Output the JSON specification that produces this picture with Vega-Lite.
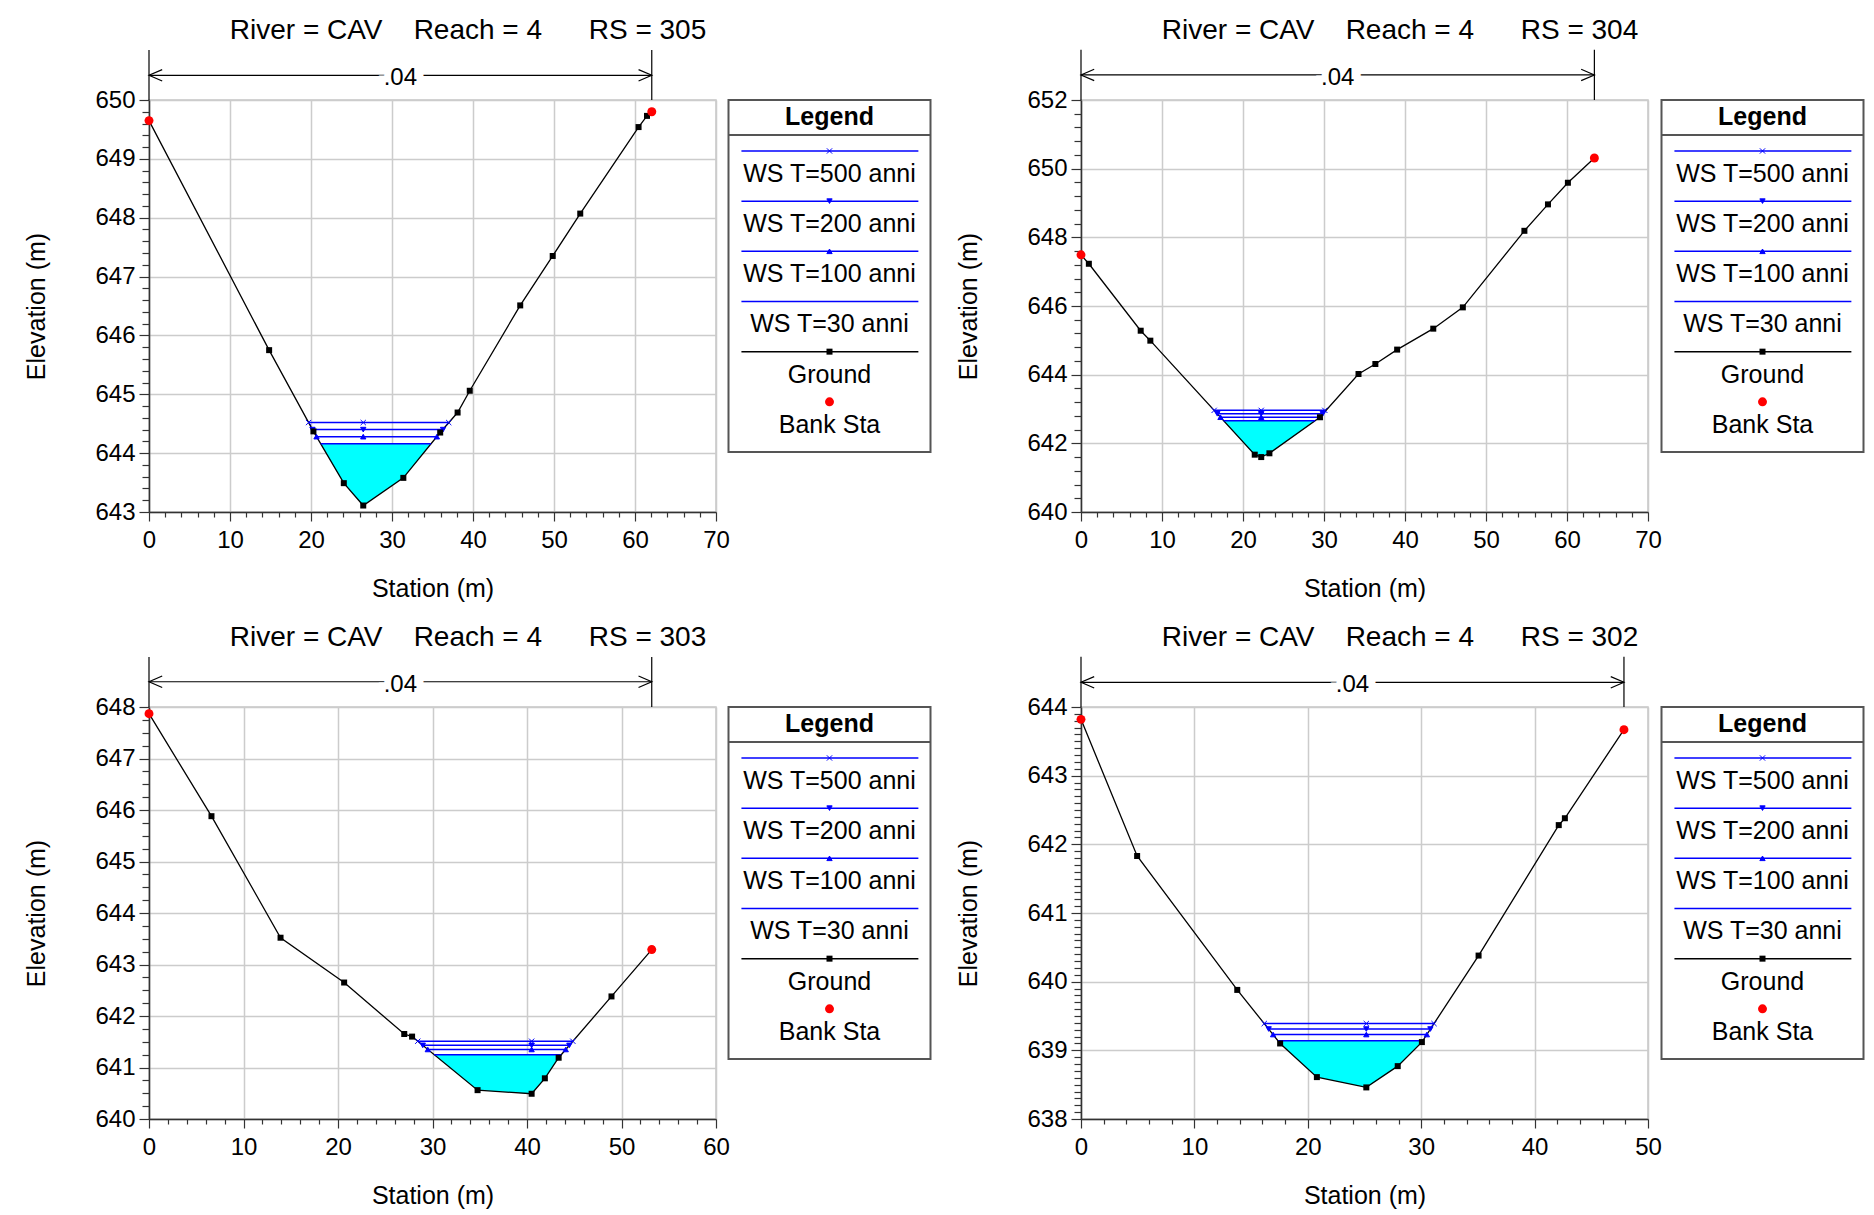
{
  "$schema": "https://vega.github.io/schema/vega-lite/v6.json",
  "background": "white",
  "padding": {"left": 24, "top": 16, "right": 5, "bottom": 5},
  "config": {
    "font": "Liberation Sans",
    "axis": {"labelFontSize": 24, "titleFontSize": 25, "titleFontWeight": "normal", "labelColor": "#000", "titleColor": "#000", "domainColor": "#333", "domainWidth": 1.5, "tickColor": "#333", "tickWidth": 1.2, "gridColor": "#cccccc", "gridWidth": 1.5, "labelOverlap": false, "labelBound": false, "labelFlush": false, "labelFont": "Liberation Sans", "titleFont": "Liberation Sans"},
    "axisX": {"labelPadding": 7, "titlePadding": 24},
    "axisY": {"labelPadding": 4, "titlePadding": 45},
    "title": {"font": "Liberation Sans"},
    "text": {"font": "Liberation Sans"}
  },
  "datasets": {
    "ground": [
      {"rs": 305, "sta": 0, "elev": 649.65}, {"rs": 305, "sta": 14.83, "elev": 645.75}, {"rs": 305, "sta": 20.3, "elev": 644.37}, {"rs": 305, "sta": 24.05, "elev": 643.49}, {"rs": 305, "sta": 26.45, "elev": 643.11}, {"rs": 305, "sta": 31.4, "elev": 643.58}, {"rs": 305, "sta": 35.95, "elev": 644.35}, {"rs": 305, "sta": 38.1, "elev": 644.69}, {"rs": 305, "sta": 39.6, "elev": 645.06}, {"rs": 305, "sta": 45.83, "elev": 646.51}, {"rs": 305, "sta": 49.84, "elev": 647.35}, {"rs": 305, "sta": 53.24, "elev": 648.07}, {"rs": 305, "sta": 60.44, "elev": 649.54}, {"rs": 305, "sta": 61.48, "elev": 649.73}, {"rs": 305, "sta": 62.07, "elev": 649.8},
      {"rs": 304, "sta": 0, "elev": 647.49}, {"rs": 304, "sta": 0.97, "elev": 647.23}, {"rs": 304, "sta": 7.37, "elev": 645.28}, {"rs": 304, "sta": 8.56, "elev": 644.99}, {"rs": 304, "sta": 21.45, "elev": 641.67}, {"rs": 304, "sta": 22.25, "elev": 641.6}, {"rs": 304, "sta": 23.26, "elev": 641.71}, {"rs": 304, "sta": 29.5, "elev": 642.76}, {"rs": 304, "sta": 34.26, "elev": 644.02}, {"rs": 304, "sta": 36.34, "elev": 644.31}, {"rs": 304, "sta": 39.03, "elev": 644.73}, {"rs": 304, "sta": 43.49, "elev": 645.34}, {"rs": 304, "sta": 47.14, "elev": 645.96}, {"rs": 304, "sta": 54.74, "elev": 648.19}, {"rs": 304, "sta": 57.65, "elev": 648.96}, {"rs": 304, "sta": 60.11, "elev": 649.59}, {"rs": 304, "sta": 63.38, "elev": 650.31},
      {"rs": 303, "sta": 0, "elev": 647.87}, {"rs": 303, "sta": 6.61, "elev": 645.88}, {"rs": 303, "sta": 13.92, "elev": 643.52}, {"rs": 303, "sta": 20.65, "elev": 642.65}, {"rs": 303, "sta": 27.01, "elev": 641.65}, {"rs": 303, "sta": 27.84, "elev": 641.6}, {"rs": 303, "sta": 34.77, "elev": 640.56}, {"rs": 303, "sta": 40.49, "elev": 640.49}, {"rs": 303, "sta": 41.89, "elev": 640.79}, {"rs": 303, "sta": 43.35, "elev": 641.19}, {"rs": 303, "sta": 48.94, "elev": 642.38}, {"rs": 303, "sta": 53.2, "elev": 643.29},
      {"rs": 302, "sta": 0, "elev": 643.82}, {"rs": 302, "sta": 4.95, "elev": 641.83}, {"rs": 302, "sta": 13.78, "elev": 639.88}, {"rs": 302, "sta": 17.56, "elev": 639.1}, {"rs": 302, "sta": 20.8, "elev": 638.61}, {"rs": 302, "sta": 25.16, "elev": 638.46}, {"rs": 302, "sta": 27.93, "elev": 638.77}, {"rs": 302, "sta": 30.06, "elev": 639.12}, {"rs": 302, "sta": 35.06, "elev": 640.38}, {"rs": 302, "sta": 42.13, "elev": 642.28}, {"rs": 302, "sta": 42.67, "elev": 642.38}, {"rs": 302, "sta": 47.88, "elev": 643.67}
    ],
    "ws": [
      {"rs": 305, "series": "WS T=500 anni", "sta": 19.7, "elev": 644.52}, {"rs": 305, "series": "WS T=500 anni", "sta": 26.45, "elev": 644.52}, {"rs": 305, "series": "WS T=500 anni", "sta": 37.0, "elev": 644.52},
      {"rs": 305, "series": "WS T=200 anni", "sta": 20.18, "elev": 644.4}, {"rs": 305, "series": "WS T=200 anni", "sta": 26.45, "elev": 644.4}, {"rs": 305, "series": "WS T=200 anni", "sta": 36.3, "elev": 644.4},
      {"rs": 305, "series": "WS T=100 anni", "sta": 20.68, "elev": 644.28}, {"rs": 305, "series": "WS T=100 anni", "sta": 26.45, "elev": 644.28}, {"rs": 305, "series": "WS T=100 anni", "sta": 35.54, "elev": 644.28},
      {"rs": 305, "series": "WS T=30 anni", "sta": 21.2, "elev": 644.16}, {"rs": 305, "series": "WS T=30 anni", "sta": 26.45, "elev": 644.16}, {"rs": 305, "series": "WS T=30 anni", "sta": 34.83, "elev": 644.16},
      {"rs": 304, "series": "WS T=500 anni", "sta": 16.44, "elev": 642.96}, {"rs": 304, "series": "WS T=500 anni", "sta": 22.25, "elev": 642.96}, {"rs": 304, "series": "WS T=500 anni", "sta": 30.1, "elev": 642.96},
      {"rs": 304, "series": "WS T=200 anni", "sta": 16.83, "elev": 642.86}, {"rs": 304, "series": "WS T=200 anni", "sta": 22.25, "elev": 642.86}, {"rs": 304, "series": "WS T=200 anni", "sta": 29.85, "elev": 642.86},
      {"rs": 304, "series": "WS T=100 anni", "sta": 17.22, "elev": 642.76}, {"rs": 304, "series": "WS T=100 anni", "sta": 22.25, "elev": 642.76}, {"rs": 304, "series": "WS T=100 anni", "sta": 29.5, "elev": 642.76},
      {"rs": 304, "series": "WS T=30 anni", "sta": 17.6, "elev": 642.66}, {"rs": 304, "series": "WS T=30 anni", "sta": 22.25, "elev": 642.66}, {"rs": 304, "series": "WS T=30 anni", "sta": 28.9, "elev": 642.66},
      {"rs": 303, "series": "WS T=500 anni", "sta": 28.44, "elev": 641.51}, {"rs": 303, "series": "WS T=500 anni", "sta": 40.49, "elev": 641.51}, {"rs": 303, "series": "WS T=500 anni", "sta": 44.85, "elev": 641.51},
      {"rs": 303, "series": "WS T=200 anni", "sta": 28.97, "elev": 641.43}, {"rs": 303, "series": "WS T=200 anni", "sta": 40.49, "elev": 641.43}, {"rs": 303, "series": "WS T=200 anni", "sta": 44.48, "elev": 641.43},
      {"rs": 303, "series": "WS T=100 anni", "sta": 29.5, "elev": 641.35}, {"rs": 303, "series": "WS T=100 anni", "sta": 40.49, "elev": 641.35}, {"rs": 303, "series": "WS T=100 anni", "sta": 44.1, "elev": 641.35},
      {"rs": 303, "series": "WS T=30 anni", "sta": 30.17, "elev": 641.25}, {"rs": 303, "series": "WS T=30 anni", "sta": 40.49, "elev": 641.25}, {"rs": 303, "series": "WS T=30 anni", "sta": 43.63, "elev": 641.25},
      {"rs": 302, "series": "WS T=500 anni", "sta": 16.16, "elev": 639.39}, {"rs": 302, "series": "WS T=500 anni", "sta": 25.16, "elev": 639.39}, {"rs": 302, "series": "WS T=500 anni", "sta": 31.13, "elev": 639.39},
      {"rs": 302, "series": "WS T=200 anni", "sta": 16.55, "elev": 639.31}, {"rs": 302, "series": "WS T=200 anni", "sta": 25.16, "elev": 639.31}, {"rs": 302, "series": "WS T=200 anni", "sta": 30.81, "elev": 639.31},
      {"rs": 302, "series": "WS T=100 anni", "sta": 16.94, "elev": 639.23}, {"rs": 302, "series": "WS T=100 anni", "sta": 25.16, "elev": 639.23}, {"rs": 302, "series": "WS T=100 anni", "sta": 30.5, "elev": 639.23},
      {"rs": 302, "series": "WS T=30 anni", "sta": 17.37, "elev": 639.14}, {"rs": 302, "series": "WS T=30 anni", "sta": 25.16, "elev": 639.14}, {"rs": 302, "series": "WS T=30 anni", "sta": 30.14, "elev": 639.14}
    ],
    "water": [
      {"rs": 305, "sta": 21.2, "bed": 644.16, "ws": 644.16}, {"rs": 305, "sta": 24.05, "bed": 643.49, "ws": 644.16}, {"rs": 305, "sta": 26.45, "bed": 643.11, "ws": 644.16}, {"rs": 305, "sta": 31.4, "bed": 643.58, "ws": 644.16}, {"rs": 305, "sta": 34.83, "bed": 644.16, "ws": 644.16},
      {"rs": 304, "sta": 17.6, "bed": 642.66, "ws": 642.66}, {"rs": 304, "sta": 21.45, "bed": 641.67, "ws": 642.66}, {"rs": 304, "sta": 22.25, "bed": 641.6, "ws": 642.66}, {"rs": 304, "sta": 23.26, "bed": 641.71, "ws": 642.66}, {"rs": 304, "sta": 28.9, "bed": 642.66, "ws": 642.66},
      {"rs": 303, "sta": 30.17, "bed": 641.25, "ws": 641.25}, {"rs": 303, "sta": 34.77, "bed": 640.56, "ws": 641.25}, {"rs": 303, "sta": 40.49, "bed": 640.49, "ws": 641.25}, {"rs": 303, "sta": 41.89, "bed": 640.79, "ws": 641.25}, {"rs": 303, "sta": 43.35, "bed": 641.19, "ws": 641.25}, {"rs": 303, "sta": 43.63, "bed": 641.25, "ws": 641.25},
      {"rs": 302, "sta": 17.37, "bed": 639.14, "ws": 639.14}, {"rs": 302, "sta": 17.56, "bed": 639.1, "ws": 639.14}, {"rs": 302, "sta": 20.8, "bed": 638.61, "ws": 639.14}, {"rs": 302, "sta": 25.16, "bed": 638.46, "ws": 639.14}, {"rs": 302, "sta": 27.93, "bed": 638.77, "ws": 639.14}, {"rs": 302, "sta": 30.06, "bed": 639.12, "ws": 639.14}, {"rs": 302, "sta": 30.14, "bed": 639.14, "ws": 639.14}
    ],
    "bank": [
      {"rs": 305, "sta": 0, "elev": 649.65}, {"rs": 305, "sta": 62.07, "elev": 649.8},
      {"rs": 304, "sta": 0, "elev": 647.49}, {"rs": 304, "sta": 63.38, "elev": 650.31},
      {"rs": 303, "sta": 0, "elev": 647.87}, {"rs": 303, "sta": 53.2, "elev": 643.29},
      {"rs": 302, "sta": 0, "elev": 643.82}, {"rs": 302, "sta": 47.88, "elev": 643.67}
    ],
    "manning": [
      {"rs": 305, "n": ".04", "left": 0, "right": 62.07},
      {"rs": 304, "n": ".04", "left": 0, "right": 63.38},
      {"rs": 303, "n": ".04", "left": 0, "right": 53.2},
      {"rs": 302, "n": ".04", "left": 0, "right": 47.88}
    ],
    "legend": [
      {"series": "WS T=500 anni", "rank": 0}, {"series": "WS T=200 anni", "rank": 1}, {"series": "WS T=100 anni", "rank": 2}, {"series": "WS T=30 anni", "rank": 3}, {"series": "Ground", "rank": 4}, {"series": "Bank Sta", "rank": 5}
    ]
  },
  "vconcat": [
    {
      "hconcat": [
        {
          "hconcat": [
            {
              "width": 567, "height": 412,
              "view": {"stroke": "#c8c8c8", "strokeWidth": 1.5},
              "title": {"text": "River = CAV\u00a0\u00a0\u00a0\u00a0Reach = 4\u00a0\u00a0\u00a0\u00a0\u00a0\u00a0RS = 305", "fontSize": 28, "fontWeight": "normal", "anchor": "middle", "frame": "group", "dx": 35.5, "baseline": "alphabetic", "offset": -18, "color": "#000"},
              "layer": [
                {"data": {"name": "water"}, "transform": [{"filter": "datum.rs == 305"}], "mark": {"type": "area", "color": "#00ffff", "opacity": 1},
                 "encoding": {
                   "x": {"field": "sta", "type": "quantitative", "scale": {"domain": [0, 70], "nice": false, "zero": false},
                         "axis": {"title": "Station (m)", "tickCount": 200, "values": [0,2,4,6,8,10,12,14,16,18,20,22,24,26,28,30,32,34,36,38,40,42,44,46,48,50,52,54,56,58,60,62,64,66,68,70], "labelExpr": "datum.value % 10 == 0 ? '' + datum.value : ''", "gridOpacity": {"condition": {"test": "datum.value % 10 != 0", "value": 0}, "value": 1}, "tickSize": {"condition": {"test": "datum.value % 10 != 0", "value": 5}, "value": 9}}},
                   "y": {"field": "bed", "type": "quantitative", "scale": {"domain": [643, 650], "nice": false, "zero": false},
                         "axis": {"title": "Elevation (m)", "tickCount": 200, "values": [643,643.2,643.4,643.6,643.8,644,644.2,644.4,644.6,644.8,645,645.2,645.4,645.6,645.8,646,646.2,646.4,646.6,646.8,647,647.2,647.4,647.6,647.8,648,648.2,648.4,648.6,648.8,649,649.2,649.4,649.6,649.8,650], "labelExpr": "abs(datum.value - round(datum.value)) < 0.001 ? '' + round(datum.value) : ''", "gridOpacity": {"condition": {"test": "abs(datum.value - round(datum.value)) > 0.001", "value": 0}, "value": 1}, "tickSize": {"condition": {"test": "abs(datum.value - round(datum.value)) > 0.001", "value": 7}, "value": 10}}},
                   "y2": {"field": "ws"}
                 }},
                {"data": {"name": "ground"}, "transform": [{"filter": "datum.rs == 305"}], "mark": {"type": "line", "color": "#000", "strokeWidth": 1.3},
                 "encoding": {"x": {"field": "sta", "type": "quantitative"}, "y": {"field": "elev", "type": "quantitative"}}},
                {"data": {"name": "ws"}, "transform": [{"filter": "datum.rs == 305"}], "mark": {"type": "line", "color": "#0000ff", "strokeWidth": 1.5},
                 "encoding": {"x": {"field": "sta", "type": "quantitative"}, "y": {"field": "elev", "type": "quantitative"}, "detail": {"field": "series", "type": "nominal"}}},
                {"data": {"name": "ws"}, "transform": [{"filter": "datum.rs == 305 && datum.series != 'WS T=30 anni'"}], "mark": {"type": "point", "filled": true, "color": "#0000ff", "stroke": "#0000ff", "strokeWidth": 1, "size": 28, "opacity": 1},
                 "encoding": {"x": {"field": "sta", "type": "quantitative"}, "y": {"field": "elev", "type": "quantitative"}, "shape": {"field": "series", "type": "nominal", "scale": {"domain": ["WS T=500 anni", "WS T=200 anni", "WS T=100 anni"], "range": ["M-1,-1L1,1M-1,1L1,-1", "triangle-down", "triangle-up"]}, "legend": null}}},
                {"data": {"name": "ground"}, "transform": [{"filter": "datum.rs == 305"}], "mark": {"type": "square", "color": "#000", "size": 36, "opacity": 1},
                 "encoding": {"x": {"field": "sta", "type": "quantitative"}, "y": {"field": "elev", "type": "quantitative"}}},
                {"data": {"name": "bank"}, "transform": [{"filter": "datum.rs == 305"}], "mark": {"type": "circle", "color": "#ff0000", "size": 80, "opacity": 1},
                 "encoding": {"x": {"field": "sta", "type": "quantitative"}, "y": {"field": "elev", "type": "quantitative"}}},
                {"data": {"name": "bank"}, "transform": [{"filter": "datum.rs == 305"}], "mark": {"type": "rule", "color": "#000", "strokeWidth": 1.2},
                 "encoding": {"x": {"field": "sta", "type": "quantitative"}, "y": {"datum": 650}, "y2": {"datum": 650.85}}},
                {"data": {"name": "manning"}, "transform": [{"filter": "datum.rs == 305"}], "mark": {"type": "rule", "color": "#000", "strokeWidth": 1.2},
                 "encoding": {"x": {"field": "left", "type": "quantitative"}, "x2": {"field": "right"}, "y": {"datum": 650.42}}},
                {"data": {"name": "manning"}, "transform": [{"filter": "datum.rs == 305"}], "mark": {"type": "point", "shape": "M2.2,-0.95L0,0L2.2,0.95", "filled": false, "color": "#000", "strokeWidth": 1.2, "size": 144, "opacity": 1},
                 "encoding": {"x": {"field": "left", "type": "quantitative"}, "y": {"datum": 650.42}}},
                {"data": {"name": "manning"}, "transform": [{"filter": "datum.rs == 305"}], "mark": {"type": "point", "shape": "M-2.2,-0.95L0,0L-2.2,0.95", "filled": false, "color": "#000", "strokeWidth": 1.2, "size": 144, "opacity": 1},
                 "encoding": {"x": {"field": "right", "type": "quantitative"}, "y": {"datum": 650.42}}},
                {"data": {"name": "manning"}, "transform": [{"filter": "datum.rs == 305"}, {"calculate": "(datum.left + datum.right) / 2", "as": "mid"}], "mark": {"type": "text", "fontSize": 24, "fill": "#fff", "stroke": "#fff", "strokeWidth": 14, "baseline": "middle", "dy": 3},
                 "encoding": {"x": {"field": "mid", "type": "quantitative"}, "y": {"datum": 650.42}, "text": {"field": "n"}}},
                {"data": {"name": "manning"}, "transform": [{"filter": "datum.rs == 305"}, {"calculate": "(datum.left + datum.right) / 2", "as": "mid"}], "mark": {"type": "text", "fontSize": 24, "color": "#000", "baseline": "middle", "dy": 3},
                 "encoding": {"x": {"field": "mid", "type": "quantitative"}, "y": {"datum": 650.42}, "text": {"field": "n"}}}
              ]
            },
            {
              "width": 202, "height": 352,
              "view": {"stroke": "#555555", "strokeWidth": 2},
              "title": {"text": "Legend", "fontSize": 28, "color": "rgba(0,0,0,0)", "baseline": "alphabetic", "offset": 32, "anchor": "middle", "frame": "group"},
              "data": {"name": "legend"},
              "layer": [
                {"transform": [{"filter": "datum.series != 'Bank Sta'"}], "mark": {"type": "rule", "strokeWidth": 1.5},
                 "encoding": {
                   "x": {"datum": 0.064, "type": "quantitative", "scale": {"domain": [0, 1], "nice": false, "zero": false}, "axis": null},
                   "x2": {"datum": 0.94},
                   "y": {"field": "rank", "type": "quantitative", "scale": {"domain": [-1.016, 6], "reverse": true, "nice": false, "zero": false}, "axis": null},
                   "color": {"field": "series", "type": "nominal", "scale": {"domain": ["WS T=500 anni", "WS T=200 anni", "WS T=100 anni", "WS T=30 anni", "Ground", "Bank Sta"], "range": ["#0000ff", "#0000ff", "#0000ff", "#0000ff", "#000000", "#ff0000"]}, "legend": null}
                 }},
                {"transform": [{"filter": "datum.rank < 3"}], "mark": {"type": "point", "filled": true, "color": "#0000ff", "stroke": "#0000ff", "strokeWidth": 1, "size": 28, "opacity": 1},
                 "encoding": {"x": {"datum": 0.5, "type": "quantitative", "axis": null}, "y": {"field": "rank", "type": "quantitative", "axis": null}, "shape": {"field": "series", "type": "nominal", "scale": {"domain": ["WS T=500 anni", "WS T=200 anni", "WS T=100 anni"], "range": ["M-1,-1L1,1M-1,1L1,-1", "triangle-down", "triangle-up"]}, "legend": null}}},
                {"transform": [{"filter": "datum.series == 'Ground'"}], "mark": {"type": "square", "color": "#000", "size": 36, "opacity": 1},
                 "encoding": {"x": {"datum": 0.5, "type": "quantitative", "axis": null}, "y": {"field": "rank", "type": "quantitative", "axis": null}}},
                {"transform": [{"filter": "datum.series == 'Bank Sta'"}], "mark": {"type": "circle", "color": "#ff0000", "size": 80, "opacity": 1},
                 "encoding": {"x": {"datum": 0.5, "type": "quantitative", "axis": null}, "y": {"field": "rank", "type": "quantitative", "axis": null}}},
                {"mark": {"type": "text", "fontSize": 25, "dy": 23, "color": "#000", "baseline": "middle"},
                 "encoding": {"x": {"datum": 0.5, "type": "quantitative", "axis": null}, "y": {"field": "rank", "type": "quantitative", "axis": null}, "text": {"field": "series"}}},
                {"data": {"values": [{}]}, "mark": {"type": "rule", "color": "#555555", "strokeWidth": 2},
                 "encoding": {"x": {"datum": 0, "type": "quantitative", "axis": null}, "x2": {"datum": 1}, "y": {"datum": -0.319, "type": "quantitative", "axis": null}}},
                {"data": {"values": [{}]}, "mark": {"type": "text", "text": "Legend", "fontSize": 25, "fontWeight": "bold", "baseline": "middle", "color": "#000"},
                 "encoding": {"x": {"datum": 0.5, "type": "quantitative", "axis": null}, "y": {"datum": -0.67, "type": "quantitative", "axis": null}}}
              ]
            }
          ],
          "spacing": 12.5,
          "bounds": "flush"
        },
        {
          "hconcat": [
            {
              "width": 567, "height": 412,
              "view": {"stroke": "#c8c8c8", "strokeWidth": 1.5},
              "title": {"text": "River = CAV\u00a0\u00a0\u00a0\u00a0Reach = 4\u00a0\u00a0\u00a0\u00a0\u00a0\u00a0RS = 304", "fontSize": 28, "fontWeight": "normal", "anchor": "middle", "frame": "group", "dx": 35.5, "baseline": "alphabetic", "offset": -18, "color": "#000"},
              "layer": [
                {"data": {"name": "water"}, "transform": [{"filter": "datum.rs == 304"}], "mark": {"type": "area", "color": "#00ffff", "opacity": 1},
                 "encoding": {
                   "x": {"field": "sta", "type": "quantitative", "scale": {"domain": [0, 70], "nice": false, "zero": false},
                         "axis": {"title": "Station (m)", "tickCount": 200, "values": [0,2,4,6,8,10,12,14,16,18,20,22,24,26,28,30,32,34,36,38,40,42,44,46,48,50,52,54,56,58,60,62,64,66,68,70], "labelExpr": "datum.value % 10 == 0 ? '' + datum.value : ''", "gridOpacity": {"condition": {"test": "datum.value % 10 != 0", "value": 0}, "value": 1}, "tickSize": {"condition": {"test": "datum.value % 10 != 0", "value": 5}, "value": 9}}},
                   "y": {"field": "bed", "type": "quantitative", "scale": {"domain": [640, 652], "nice": false, "zero": false},
                         "axis": {"title": "Elevation (m)", "tickCount": 200, "values": [640,640.4,640.8,641.2,641.6,642,642.4,642.8,643.2,643.6,644,644.4,644.8,645.2,645.6,646,646.4,646.8,647.2,647.6,648,648.4,648.8,649.2,649.6,650,650.4,650.8,651.2,651.6,652], "labelExpr": "abs(datum.value / 2 - round(datum.value / 2)) < 0.001 ? '' + round(datum.value) : ''", "gridOpacity": {"condition": {"test": "abs(datum.value / 2 - round(datum.value / 2)) > 0.001", "value": 0}, "value": 1}, "tickSize": {"condition": {"test": "abs(datum.value / 2 - round(datum.value / 2)) > 0.001", "value": 7}, "value": 10}}},
                   "y2": {"field": "ws"}
                 }},
                {"data": {"name": "ground"}, "transform": [{"filter": "datum.rs == 304"}], "mark": {"type": "line", "color": "#000", "strokeWidth": 1.3},
                 "encoding": {"x": {"field": "sta", "type": "quantitative"}, "y": {"field": "elev", "type": "quantitative"}}},
                {"data": {"name": "ws"}, "transform": [{"filter": "datum.rs == 304"}], "mark": {"type": "line", "color": "#0000ff", "strokeWidth": 1.5},
                 "encoding": {"x": {"field": "sta", "type": "quantitative"}, "y": {"field": "elev", "type": "quantitative"}, "detail": {"field": "series", "type": "nominal"}}},
                {"data": {"name": "ws"}, "transform": [{"filter": "datum.rs == 304 && datum.series != 'WS T=30 anni'"}], "mark": {"type": "point", "filled": true, "color": "#0000ff", "stroke": "#0000ff", "strokeWidth": 1, "size": 28, "opacity": 1},
                 "encoding": {"x": {"field": "sta", "type": "quantitative"}, "y": {"field": "elev", "type": "quantitative"}, "shape": {"field": "series", "type": "nominal", "scale": {"domain": ["WS T=500 anni", "WS T=200 anni", "WS T=100 anni"], "range": ["M-1,-1L1,1M-1,1L1,-1", "triangle-down", "triangle-up"]}, "legend": null}}},
                {"data": {"name": "ground"}, "transform": [{"filter": "datum.rs == 304"}], "mark": {"type": "square", "color": "#000", "size": 36, "opacity": 1},
                 "encoding": {"x": {"field": "sta", "type": "quantitative"}, "y": {"field": "elev", "type": "quantitative"}}},
                {"data": {"name": "bank"}, "transform": [{"filter": "datum.rs == 304"}], "mark": {"type": "circle", "color": "#ff0000", "size": 80, "opacity": 1},
                 "encoding": {"x": {"field": "sta", "type": "quantitative"}, "y": {"field": "elev", "type": "quantitative"}}},
                {"data": {"name": "bank"}, "transform": [{"filter": "datum.rs == 304"}], "mark": {"type": "rule", "color": "#000", "strokeWidth": 1.2},
                 "encoding": {"x": {"field": "sta", "type": "quantitative"}, "y": {"datum": 652}, "y2": {"datum": 653.46}}},
                {"data": {"name": "manning"}, "transform": [{"filter": "datum.rs == 304"}], "mark": {"type": "rule", "color": "#000", "strokeWidth": 1.2},
                 "encoding": {"x": {"field": "left", "type": "quantitative"}, "x2": {"field": "right"}, "y": {"datum": 652.73}}},
                {"data": {"name": "manning"}, "transform": [{"filter": "datum.rs == 304"}], "mark": {"type": "point", "shape": "M2.2,-0.95L0,0L2.2,0.95", "filled": false, "color": "#000", "strokeWidth": 1.2, "size": 144, "opacity": 1},
                 "encoding": {"x": {"field": "left", "type": "quantitative"}, "y": {"datum": 652.73}}},
                {"data": {"name": "manning"}, "transform": [{"filter": "datum.rs == 304"}], "mark": {"type": "point", "shape": "M-2.2,-0.95L0,0L-2.2,0.95", "filled": false, "color": "#000", "strokeWidth": 1.2, "size": 144, "opacity": 1},
                 "encoding": {"x": {"field": "right", "type": "quantitative"}, "y": {"datum": 652.73}}},
                {"data": {"name": "manning"}, "transform": [{"filter": "datum.rs == 304"}, {"calculate": "(datum.left + datum.right) / 2", "as": "mid"}], "mark": {"type": "text", "fontSize": 24, "fill": "#fff", "stroke": "#fff", "strokeWidth": 14, "baseline": "middle", "dy": 3},
                 "encoding": {"x": {"field": "mid", "type": "quantitative"}, "y": {"datum": 652.73}, "text": {"field": "n"}}},
                {"data": {"name": "manning"}, "transform": [{"filter": "datum.rs == 304"}, {"calculate": "(datum.left + datum.right) / 2", "as": "mid"}], "mark": {"type": "text", "fontSize": 24, "color": "#000", "baseline": "middle", "dy": 3},
                 "encoding": {"x": {"field": "mid", "type": "quantitative"}, "y": {"datum": 652.73}, "text": {"field": "n"}}}
              ]
            },
            {
              "width": 202, "height": 352,
              "view": {"stroke": "#555555", "strokeWidth": 2},
              "title": {"text": "Legend", "fontSize": 28, "color": "rgba(0,0,0,0)", "baseline": "alphabetic", "offset": 32, "anchor": "middle", "frame": "group"},
              "data": {"name": "legend"},
              "layer": [
                {"transform": [{"filter": "datum.series != 'Bank Sta'"}], "mark": {"type": "rule", "strokeWidth": 1.5},
                 "encoding": {
                   "x": {"datum": 0.064, "type": "quantitative", "scale": {"domain": [0, 1], "nice": false, "zero": false}, "axis": null},
                   "x2": {"datum": 0.94},
                   "y": {"field": "rank", "type": "quantitative", "scale": {"domain": [-1.016, 6], "reverse": true, "nice": false, "zero": false}, "axis": null},
                   "color": {"field": "series", "type": "nominal", "scale": {"domain": ["WS T=500 anni", "WS T=200 anni", "WS T=100 anni", "WS T=30 anni", "Ground", "Bank Sta"], "range": ["#0000ff", "#0000ff", "#0000ff", "#0000ff", "#000000", "#ff0000"]}, "legend": null}
                 }},
                {"transform": [{"filter": "datum.rank < 3"}], "mark": {"type": "point", "filled": true, "color": "#0000ff", "stroke": "#0000ff", "strokeWidth": 1, "size": 28, "opacity": 1},
                 "encoding": {"x": {"datum": 0.5, "type": "quantitative", "axis": null}, "y": {"field": "rank", "type": "quantitative", "axis": null}, "shape": {"field": "series", "type": "nominal", "scale": {"domain": ["WS T=500 anni", "WS T=200 anni", "WS T=100 anni"], "range": ["M-1,-1L1,1M-1,1L1,-1", "triangle-down", "triangle-up"]}, "legend": null}}},
                {"transform": [{"filter": "datum.series == 'Ground'"}], "mark": {"type": "square", "color": "#000", "size": 36, "opacity": 1},
                 "encoding": {"x": {"datum": 0.5, "type": "quantitative", "axis": null}, "y": {"field": "rank", "type": "quantitative", "axis": null}}},
                {"transform": [{"filter": "datum.series == 'Bank Sta'"}], "mark": {"type": "circle", "color": "#ff0000", "size": 80, "opacity": 1},
                 "encoding": {"x": {"datum": 0.5, "type": "quantitative", "axis": null}, "y": {"field": "rank", "type": "quantitative", "axis": null}}},
                {"mark": {"type": "text", "fontSize": 25, "dy": 23, "color": "#000", "baseline": "middle"},
                 "encoding": {"x": {"datum": 0.5, "type": "quantitative", "axis": null}, "y": {"field": "rank", "type": "quantitative", "axis": null}, "text": {"field": "series"}}},
                {"data": {"values": [{}]}, "mark": {"type": "rule", "color": "#555555", "strokeWidth": 2},
                 "encoding": {"x": {"datum": 0, "type": "quantitative", "axis": null}, "x2": {"datum": 1}, "y": {"datum": -0.319, "type": "quantitative", "axis": null}}},
                {"data": {"values": [{}]}, "mark": {"type": "text", "text": "Legend", "fontSize": 25, "fontWeight": "bold", "baseline": "middle", "color": "#000"},
                 "encoding": {"x": {"datum": 0.5, "type": "quantitative", "axis": null}, "y": {"datum": -0.67, "type": "quantitative", "axis": null}}}
              ]
            }
          ],
          "spacing": 13.5,
          "bounds": "flush"
        }
      ],
      "spacing": 23
    },
    {
      "hconcat": [
        {
          "hconcat": [
            {
              "width": 567, "height": 412,
              "view": {"stroke": "#c8c8c8", "strokeWidth": 1.5},
              "title": {"text": "River = CAV\u00a0\u00a0\u00a0\u00a0Reach = 4\u00a0\u00a0\u00a0\u00a0\u00a0\u00a0RS = 303", "fontSize": 28, "fontWeight": "normal", "anchor": "middle", "frame": "group", "dx": 35.5, "baseline": "alphabetic", "offset": -18, "color": "#000"},
              "layer": [
                {"data": {"name": "water"}, "transform": [{"filter": "datum.rs == 303"}], "mark": {"type": "area", "color": "#00ffff", "opacity": 1},
                 "encoding": {
                   "x": {"field": "sta", "type": "quantitative", "scale": {"domain": [0, 60], "nice": false, "zero": false},
                         "axis": {"title": "Station (m)", "tickCount": 200, "values": [0,2,4,6,8,10,12,14,16,18,20,22,24,26,28,30,32,34,36,38,40,42,44,46,48,50,52,54,56,58,60], "labelExpr": "datum.value % 10 == 0 ? '' + datum.value : ''", "gridOpacity": {"condition": {"test": "datum.value % 10 != 0", "value": 0}, "value": 1}, "tickSize": {"condition": {"test": "datum.value % 10 != 0", "value": 5}, "value": 9}}},
                   "y": {"field": "bed", "type": "quantitative", "scale": {"domain": [640, 648], "nice": false, "zero": false},
                         "axis": {"title": "Elevation (m)", "tickCount": 200, "values": [640,640.25,640.5,640.75,641,641.25,641.5,641.75,642,642.25,642.5,642.75,643,643.25,643.5,643.75,644,644.25,644.5,644.75,645,645.25,645.5,645.75,646,646.25,646.5,646.75,647,647.25,647.5,647.75,648], "labelExpr": "abs(datum.value - round(datum.value)) < 0.001 ? '' + round(datum.value) : ''", "gridOpacity": {"condition": {"test": "abs(datum.value - round(datum.value)) > 0.001", "value": 0}, "value": 1}, "tickSize": {"condition": {"test": "abs(datum.value - round(datum.value)) > 0.001", "value": 7}, "value": 10}}},
                   "y2": {"field": "ws"}
                 }},
                {"data": {"name": "ground"}, "transform": [{"filter": "datum.rs == 303"}], "mark": {"type": "line", "color": "#000", "strokeWidth": 1.3},
                 "encoding": {"x": {"field": "sta", "type": "quantitative"}, "y": {"field": "elev", "type": "quantitative"}}},
                {"data": {"name": "ws"}, "transform": [{"filter": "datum.rs == 303"}], "mark": {"type": "line", "color": "#0000ff", "strokeWidth": 1.5},
                 "encoding": {"x": {"field": "sta", "type": "quantitative"}, "y": {"field": "elev", "type": "quantitative"}, "detail": {"field": "series", "type": "nominal"}}},
                {"data": {"name": "ws"}, "transform": [{"filter": "datum.rs == 303 && datum.series != 'WS T=30 anni'"}], "mark": {"type": "point", "filled": true, "color": "#0000ff", "stroke": "#0000ff", "strokeWidth": 1, "size": 28, "opacity": 1},
                 "encoding": {"x": {"field": "sta", "type": "quantitative"}, "y": {"field": "elev", "type": "quantitative"}, "shape": {"field": "series", "type": "nominal", "scale": {"domain": ["WS T=500 anni", "WS T=200 anni", "WS T=100 anni"], "range": ["M-1,-1L1,1M-1,1L1,-1", "triangle-down", "triangle-up"]}, "legend": null}}},
                {"data": {"name": "ground"}, "transform": [{"filter": "datum.rs == 303"}], "mark": {"type": "square", "color": "#000", "size": 36, "opacity": 1},
                 "encoding": {"x": {"field": "sta", "type": "quantitative"}, "y": {"field": "elev", "type": "quantitative"}}},
                {"data": {"name": "bank"}, "transform": [{"filter": "datum.rs == 303"}], "mark": {"type": "circle", "color": "#ff0000", "size": 80, "opacity": 1},
                 "encoding": {"x": {"field": "sta", "type": "quantitative"}, "y": {"field": "elev", "type": "quantitative"}}},
                {"data": {"name": "bank"}, "transform": [{"filter": "datum.rs == 303"}], "mark": {"type": "rule", "color": "#000", "strokeWidth": 1.2},
                 "encoding": {"x": {"field": "sta", "type": "quantitative"}, "y": {"datum": 648}, "y2": {"datum": 648.97}}},
                {"data": {"name": "manning"}, "transform": [{"filter": "datum.rs == 303"}], "mark": {"type": "rule", "color": "#000", "strokeWidth": 1.2},
                 "encoding": {"x": {"field": "left", "type": "quantitative"}, "x2": {"field": "right"}, "y": {"datum": 648.49}}},
                {"data": {"name": "manning"}, "transform": [{"filter": "datum.rs == 303"}], "mark": {"type": "point", "shape": "M2.2,-0.95L0,0L2.2,0.95", "filled": false, "color": "#000", "strokeWidth": 1.2, "size": 144, "opacity": 1},
                 "encoding": {"x": {"field": "left", "type": "quantitative"}, "y": {"datum": 648.49}}},
                {"data": {"name": "manning"}, "transform": [{"filter": "datum.rs == 303"}], "mark": {"type": "point", "shape": "M-2.2,-0.95L0,0L-2.2,0.95", "filled": false, "color": "#000", "strokeWidth": 1.2, "size": 144, "opacity": 1},
                 "encoding": {"x": {"field": "right", "type": "quantitative"}, "y": {"datum": 648.49}}},
                {"data": {"name": "manning"}, "transform": [{"filter": "datum.rs == 303"}, {"calculate": "(datum.left + datum.right) / 2", "as": "mid"}], "mark": {"type": "text", "fontSize": 24, "fill": "#fff", "stroke": "#fff", "strokeWidth": 14, "baseline": "middle", "dy": 3},
                 "encoding": {"x": {"field": "mid", "type": "quantitative"}, "y": {"datum": 648.49}, "text": {"field": "n"}}},
                {"data": {"name": "manning"}, "transform": [{"filter": "datum.rs == 303"}, {"calculate": "(datum.left + datum.right) / 2", "as": "mid"}], "mark": {"type": "text", "fontSize": 24, "color": "#000", "baseline": "middle", "dy": 3},
                 "encoding": {"x": {"field": "mid", "type": "quantitative"}, "y": {"datum": 648.49}, "text": {"field": "n"}}}
              ]
            },
            {
              "width": 202, "height": 352,
              "view": {"stroke": "#555555", "strokeWidth": 2},
              "title": {"text": "Legend", "fontSize": 28, "color": "rgba(0,0,0,0)", "baseline": "alphabetic", "offset": 32, "anchor": "middle", "frame": "group"},
              "data": {"name": "legend"},
              "layer": [
                {"transform": [{"filter": "datum.series != 'Bank Sta'"}], "mark": {"type": "rule", "strokeWidth": 1.5},
                 "encoding": {
                   "x": {"datum": 0.064, "type": "quantitative", "scale": {"domain": [0, 1], "nice": false, "zero": false}, "axis": null},
                   "x2": {"datum": 0.94},
                   "y": {"field": "rank", "type": "quantitative", "scale": {"domain": [-1.016, 6], "reverse": true, "nice": false, "zero": false}, "axis": null},
                   "color": {"field": "series", "type": "nominal", "scale": {"domain": ["WS T=500 anni", "WS T=200 anni", "WS T=100 anni", "WS T=30 anni", "Ground", "Bank Sta"], "range": ["#0000ff", "#0000ff", "#0000ff", "#0000ff", "#000000", "#ff0000"]}, "legend": null}
                 }},
                {"transform": [{"filter": "datum.rank < 3"}], "mark": {"type": "point", "filled": true, "color": "#0000ff", "stroke": "#0000ff", "strokeWidth": 1, "size": 28, "opacity": 1},
                 "encoding": {"x": {"datum": 0.5, "type": "quantitative", "axis": null}, "y": {"field": "rank", "type": "quantitative", "axis": null}, "shape": {"field": "series", "type": "nominal", "scale": {"domain": ["WS T=500 anni", "WS T=200 anni", "WS T=100 anni"], "range": ["M-1,-1L1,1M-1,1L1,-1", "triangle-down", "triangle-up"]}, "legend": null}}},
                {"transform": [{"filter": "datum.series == 'Ground'"}], "mark": {"type": "square", "color": "#000", "size": 36, "opacity": 1},
                 "encoding": {"x": {"datum": 0.5, "type": "quantitative", "axis": null}, "y": {"field": "rank", "type": "quantitative", "axis": null}}},
                {"transform": [{"filter": "datum.series == 'Bank Sta'"}], "mark": {"type": "circle", "color": "#ff0000", "size": 80, "opacity": 1},
                 "encoding": {"x": {"datum": 0.5, "type": "quantitative", "axis": null}, "y": {"field": "rank", "type": "quantitative", "axis": null}}},
                {"mark": {"type": "text", "fontSize": 25, "dy": 23, "color": "#000", "baseline": "middle"},
                 "encoding": {"x": {"datum": 0.5, "type": "quantitative", "axis": null}, "y": {"field": "rank", "type": "quantitative", "axis": null}, "text": {"field": "series"}}},
                {"data": {"values": [{}]}, "mark": {"type": "rule", "color": "#555555", "strokeWidth": 2},
                 "encoding": {"x": {"datum": 0, "type": "quantitative", "axis": null}, "x2": {"datum": 1}, "y": {"datum": -0.319, "type": "quantitative", "axis": null}}},
                {"data": {"values": [{}]}, "mark": {"type": "text", "text": "Legend", "fontSize": 25, "fontWeight": "bold", "baseline": "middle", "color": "#000"},
                 "encoding": {"x": {"datum": 0.5, "type": "quantitative", "axis": null}, "y": {"datum": -0.67, "type": "quantitative", "axis": null}}}
              ]
            }
          ],
          "spacing": 12.5,
          "bounds": "flush"
        },
        {
          "hconcat": [
            {
              "width": 567, "height": 412,
              "view": {"stroke": "#c8c8c8", "strokeWidth": 1.5},
              "title": {"text": "River = CAV\u00a0\u00a0\u00a0\u00a0Reach = 4\u00a0\u00a0\u00a0\u00a0\u00a0\u00a0RS = 302", "fontSize": 28, "fontWeight": "normal", "anchor": "middle", "frame": "group", "dx": 35.5, "baseline": "alphabetic", "offset": -18, "color": "#000"},
              "layer": [
                {"data": {"name": "water"}, "transform": [{"filter": "datum.rs == 302"}], "mark": {"type": "area", "color": "#00ffff", "opacity": 1},
                 "encoding": {
                   "x": {"field": "sta", "type": "quantitative", "scale": {"domain": [0, 50], "nice": false, "zero": false},
                         "axis": {"title": "Station (m)", "tickCount": 200, "values": [0,2,4,6,8,10,12,14,16,18,20,22,24,26,28,30,32,34,36,38,40,42,44,46,48,50], "labelExpr": "datum.value % 10 == 0 ? '' + datum.value : ''", "gridOpacity": {"condition": {"test": "datum.value % 10 != 0", "value": 0}, "value": 1}, "tickSize": {"condition": {"test": "datum.value % 10 != 0", "value": 5}, "value": 9}}},
                   "y": {"field": "bed", "type": "quantitative", "scale": {"domain": [638, 644], "nice": false, "zero": false},
                         "axis": {"title": "Elevation (m)", "tickCount": 200, "values": [638,638.1,638.2,638.3,638.4,638.5,638.6,638.7,638.8,638.9,639,639.1,639.2,639.3,639.4,639.5,639.6,639.7,639.8,639.9,640,640.1,640.2,640.3,640.4,640.5,640.6,640.7,640.8,640.9,641,641.1,641.2,641.3,641.4,641.5,641.6,641.7,641.8,641.9,642,642.1,642.2,642.3,642.4,642.5,642.6,642.7,642.8,642.9,643,643.1,643.2,643.3,643.4,643.5,643.6,643.7,643.8,643.9,644], "labelExpr": "abs(datum.value - round(datum.value)) < 0.001 ? '' + round(datum.value) : ''", "gridOpacity": {"condition": {"test": "abs(datum.value - round(datum.value)) > 0.001", "value": 0}, "value": 1}, "tickSize": {"condition": {"test": "abs(datum.value - round(datum.value)) > 0.001", "value": 7}, "value": 10}}},
                   "y2": {"field": "ws"}
                 }},
                {"data": {"name": "ground"}, "transform": [{"filter": "datum.rs == 302"}], "mark": {"type": "line", "color": "#000", "strokeWidth": 1.3},
                 "encoding": {"x": {"field": "sta", "type": "quantitative"}, "y": {"field": "elev", "type": "quantitative"}}},
                {"data": {"name": "ws"}, "transform": [{"filter": "datum.rs == 302"}], "mark": {"type": "line", "color": "#0000ff", "strokeWidth": 1.5},
                 "encoding": {"x": {"field": "sta", "type": "quantitative"}, "y": {"field": "elev", "type": "quantitative"}, "detail": {"field": "series", "type": "nominal"}}},
                {"data": {"name": "ws"}, "transform": [{"filter": "datum.rs == 302 && datum.series != 'WS T=30 anni'"}], "mark": {"type": "point", "filled": true, "color": "#0000ff", "stroke": "#0000ff", "strokeWidth": 1, "size": 28, "opacity": 1},
                 "encoding": {"x": {"field": "sta", "type": "quantitative"}, "y": {"field": "elev", "type": "quantitative"}, "shape": {"field": "series", "type": "nominal", "scale": {"domain": ["WS T=500 anni", "WS T=200 anni", "WS T=100 anni"], "range": ["M-1,-1L1,1M-1,1L1,-1", "triangle-down", "triangle-up"]}, "legend": null}}},
                {"data": {"name": "ground"}, "transform": [{"filter": "datum.rs == 302"}], "mark": {"type": "square", "color": "#000", "size": 36, "opacity": 1},
                 "encoding": {"x": {"field": "sta", "type": "quantitative"}, "y": {"field": "elev", "type": "quantitative"}}},
                {"data": {"name": "bank"}, "transform": [{"filter": "datum.rs == 302"}], "mark": {"type": "circle", "color": "#ff0000", "size": 80, "opacity": 1},
                 "encoding": {"x": {"field": "sta", "type": "quantitative"}, "y": {"field": "elev", "type": "quantitative"}}},
                {"data": {"name": "bank"}, "transform": [{"filter": "datum.rs == 302"}], "mark": {"type": "rule", "color": "#000", "strokeWidth": 1.2},
                 "encoding": {"x": {"field": "sta", "type": "quantitative"}, "y": {"datum": 644}, "y2": {"datum": 644.73}}},
                {"data": {"name": "manning"}, "transform": [{"filter": "datum.rs == 302"}], "mark": {"type": "rule", "color": "#000", "strokeWidth": 1.2},
                 "encoding": {"x": {"field": "left", "type": "quantitative"}, "x2": {"field": "right"}, "y": {"datum": 644.36}}},
                {"data": {"name": "manning"}, "transform": [{"filter": "datum.rs == 302"}], "mark": {"type": "point", "shape": "M2.2,-0.95L0,0L2.2,0.95", "filled": false, "color": "#000", "strokeWidth": 1.2, "size": 144, "opacity": 1},
                 "encoding": {"x": {"field": "left", "type": "quantitative"}, "y": {"datum": 644.36}}},
                {"data": {"name": "manning"}, "transform": [{"filter": "datum.rs == 302"}], "mark": {"type": "point", "shape": "M-2.2,-0.95L0,0L-2.2,0.95", "filled": false, "color": "#000", "strokeWidth": 1.2, "size": 144, "opacity": 1},
                 "encoding": {"x": {"field": "right", "type": "quantitative"}, "y": {"datum": 644.36}}},
                {"data": {"name": "manning"}, "transform": [{"filter": "datum.rs == 302"}, {"calculate": "(datum.left + datum.right) / 2", "as": "mid"}], "mark": {"type": "text", "fontSize": 24, "fill": "#fff", "stroke": "#fff", "strokeWidth": 14, "baseline": "middle", "dy": 3},
                 "encoding": {"x": {"field": "mid", "type": "quantitative"}, "y": {"datum": 644.36}, "text": {"field": "n"}}},
                {"data": {"name": "manning"}, "transform": [{"filter": "datum.rs == 302"}, {"calculate": "(datum.left + datum.right) / 2", "as": "mid"}], "mark": {"type": "text", "fontSize": 24, "color": "#000", "baseline": "middle", "dy": 3},
                 "encoding": {"x": {"field": "mid", "type": "quantitative"}, "y": {"datum": 644.36}, "text": {"field": "n"}}}
              ]
            },
            {
              "width": 202, "height": 352,
              "view": {"stroke": "#555555", "strokeWidth": 2},
              "title": {"text": "Legend", "fontSize": 28, "color": "rgba(0,0,0,0)", "baseline": "alphabetic", "offset": 32, "anchor": "middle", "frame": "group"},
              "data": {"name": "legend"},
              "layer": [
                {"transform": [{"filter": "datum.series != 'Bank Sta'"}], "mark": {"type": "rule", "strokeWidth": 1.5},
                 "encoding": {
                   "x": {"datum": 0.064, "type": "quantitative", "scale": {"domain": [0, 1], "nice": false, "zero": false}, "axis": null},
                   "x2": {"datum": 0.94},
                   "y": {"field": "rank", "type": "quantitative", "scale": {"domain": [-1.016, 6], "reverse": true, "nice": false, "zero": false}, "axis": null},
                   "color": {"field": "series", "type": "nominal", "scale": {"domain": ["WS T=500 anni", "WS T=200 anni", "WS T=100 anni", "WS T=30 anni", "Ground", "Bank Sta"], "range": ["#0000ff", "#0000ff", "#0000ff", "#0000ff", "#000000", "#ff0000"]}, "legend": null}
                 }},
                {"transform": [{"filter": "datum.rank < 3"}], "mark": {"type": "point", "filled": true, "color": "#0000ff", "stroke": "#0000ff", "strokeWidth": 1, "size": 28, "opacity": 1},
                 "encoding": {"x": {"datum": 0.5, "type": "quantitative", "axis": null}, "y": {"field": "rank", "type": "quantitative", "axis": null}, "shape": {"field": "series", "type": "nominal", "scale": {"domain": ["WS T=500 anni", "WS T=200 anni", "WS T=100 anni"], "range": ["M-1,-1L1,1M-1,1L1,-1", "triangle-down", "triangle-up"]}, "legend": null}}},
                {"transform": [{"filter": "datum.series == 'Ground'"}], "mark": {"type": "square", "color": "#000", "size": 36, "opacity": 1},
                 "encoding": {"x": {"datum": 0.5, "type": "quantitative", "axis": null}, "y": {"field": "rank", "type": "quantitative", "axis": null}}},
                {"transform": [{"filter": "datum.series == 'Bank Sta'"}], "mark": {"type": "circle", "color": "#ff0000", "size": 80, "opacity": 1},
                 "encoding": {"x": {"datum": 0.5, "type": "quantitative", "axis": null}, "y": {"field": "rank", "type": "quantitative", "axis": null}}},
                {"mark": {"type": "text", "fontSize": 25, "dy": 23, "color": "#000", "baseline": "middle"},
                 "encoding": {"x": {"datum": 0.5, "type": "quantitative", "axis": null}, "y": {"field": "rank", "type": "quantitative", "axis": null}, "text": {"field": "series"}}},
                {"data": {"values": [{}]}, "mark": {"type": "rule", "color": "#555555", "strokeWidth": 2},
                 "encoding": {"x": {"datum": 0, "type": "quantitative", "axis": null}, "x2": {"datum": 1}, "y": {"datum": -0.319, "type": "quantitative", "axis": null}}},
                {"data": {"values": [{}]}, "mark": {"type": "text", "text": "Legend", "fontSize": 25, "fontWeight": "bold", "baseline": "middle", "color": "#000"},
                 "encoding": {"x": {"datum": 0.5, "type": "quantitative", "axis": null}, "y": {"datum": -0.67, "type": "quantitative", "axis": null}}}
              ]
            }
          ],
          "spacing": 13.5,
          "bounds": "flush"
        }
      ],
      "spacing": 23
    }
  ],
  "spacing": 21
}
